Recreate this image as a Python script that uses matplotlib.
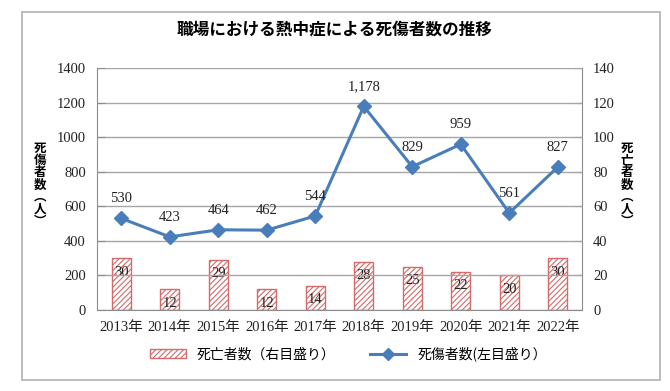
import matplotlib.pyplot as plt
from matplotlib.patches import Rectangle, Patch
from matplotlib.lines import Line2D

plt.rcParams['font.family'] = ['Liberation Serif', 'Noto Sans CJK JP']
plt.rcParams['hatch.linewidth'] = 0.8

# data
years = ['2013年', '2014年', '2015年', '2016年', '2017年',
         '2018年', '2019年', '2020年', '2021年', '2022年']
casualties = [530, 423, 464, 462, 544, 1178, 829, 959, 561, 827]
deaths = [30, 12, 29, 12, 14, 28, 25, 22, 20, 30]

line_color = '#4a7ebb'
bar_edge = '#d46a6a'
grid_color = '#a6a6a6'

fig = plt.figure(figsize=(6.7, 3.91), dpi=100)
fig.patches.append(Rectangle((22 / 670, 1 - 380 / 391), 638 / 670, 368 / 391,
                             transform=fig.transFigure, fill=False,
                             edgecolor='#b0b0b0', linewidth=1.2))

ax = fig.add_axes([97 / 670, 1 - 310 / 391, 485 / 670, 242 / 391])
ax2 = ax.twinx()

x = list(range(len(years)))

# bars on the right axis
ax2.bar(x, deaths, width=0.4, facecolor='white', edgecolor=bar_edge,
        hatch='//////', linewidth=1.0, zorder=2)
for xi, d in zip(x, deaths):
    ax2.annotate(str(d), (xi, d), xytext=(0, -10), textcoords='offset points',
                 ha='center', va='center', fontsize=10.5, color='#222222')
ax2.set_ylim(0, 140)
ax2.set_yticks(range(0, 141, 20))

# line on the left axis, drawn above the bars
ax.set_zorder(ax2.get_zorder() + 1)
ax.patch.set_visible(False)
ax.plot(x, casualties, color=line_color, linewidth=2.2, marker='D',
        markersize=7, zorder=3)
for xi, c in zip(x, casualties):
    ax.annotate(f'{c:,}', (xi, c), xytext=(0, 14), textcoords='offset points',
                ha='center', va='center', fontsize=10.5, color='#222222')
ax.set_ylim(0, 1400)
ax.set_yticks(range(0, 1401, 200))
ax.set_xlim(-0.5, len(years) - 0.5)
ax.set_xticks(x)
ax.set_xticklabels(years)
ax.yaxis.grid(True, color=grid_color, linewidth=1.0)
ax.set_axisbelow(True)

for a in (ax, ax2):
    a.spines['top'].set_visible(False)
    for s in ('left', 'right', 'bottom'):
        a.spines[s].set_color('#8c8c8c')
    a.tick_params(labelsize=10.5, colors='#222222', length=0, pad=8)
    a.tick_params(axis='y', length=6, color='#8c8c8c', direction='in')
ax2.spines['left'].set_visible(False)
ax2.spines['bottom'].set_visible(False)
ax.spines['right'].set_visible(False)

fig.text(0.5, 1 - 30 / 391, '職場における熱中症による死傷者数の推移',
         ha='center', va='center', fontsize=12, fontweight='bold',
         family='Noto Sans CJK JP')
fig.text(40 / 670, 1 - 185 / 391, '死\n傷\n者\n数\n︵\n人\n︶', ha='center', va='center',
         fontsize=9, fontweight='bold', family='Noto Sans CJK JP', linespacing=0.92)
fig.text(627 / 670, 1 - 185 / 391, '死\n亡\n者\n数\n︵\n人\n︶', ha='center', va='center',
         fontsize=9, fontweight='bold', family='Noto Sans CJK JP', linespacing=0.92)

handles = [Patch(facecolor='white', edgecolor=bar_edge, hatch='//////'),
           Line2D([], [], color=line_color, linewidth=2.2, marker='D', markersize=6)]
labels = ['死亡者数（右目盛り）', '死傷者数(左目盛り）']
fig.legend(handles, labels, loc='center', bbox_to_anchor=(0.52, 1 - 354 / 391),
           ncol=2, frameon=False, columnspacing=2.5, handlelength=2.6,
           prop={'family': ['Noto Sans CJK JP'], 'size': 10})

fig.savefig('out.png', dpi=100)
